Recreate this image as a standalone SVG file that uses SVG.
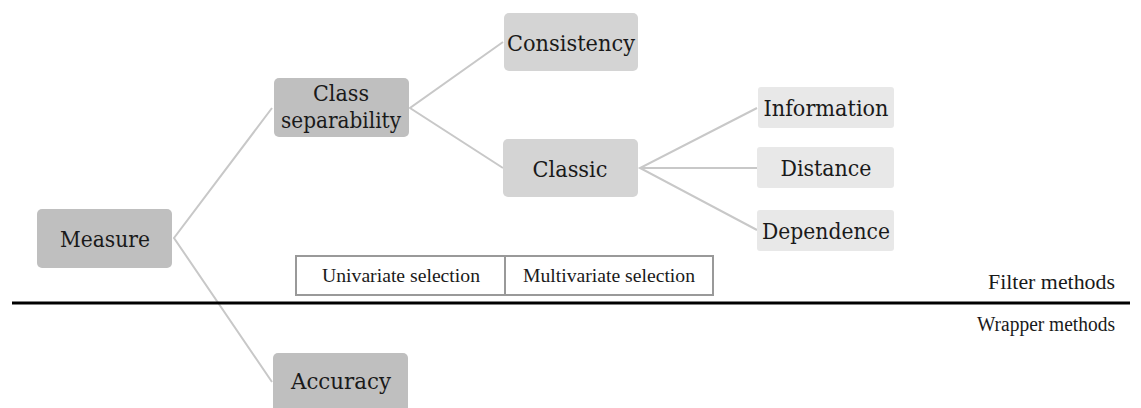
<svg xmlns="http://www.w3.org/2000/svg" width="1141" height="408" viewBox="0 0 1141 408">
<style>
.t{fill:#1a1a1a;text-anchor:middle}
.n{font-family:'DejaVu Serif',serif;font-size:23px}
.s{font-size:18px;font-family:'Liberation Serif',serif}
.m{font-size:20px;text-anchor:start;font-family:'Liberation Serif',serif}
.l1{fill:#bfbfbf}
.l2{fill:#d4d4d4}
.l3{fill:#e8e8e8}
.c{stroke:#c8c8c8;stroke-width:2;fill:none}
</style>
<rect width="1141" height="408" fill="#ffffff"/>
<g id="connectors">
<polyline class="c" points="272,108 174,238 272,382"/>
<polyline class="c" points="503,42 410,108 503,168"/>
<polyline class="c" points="757,108 640,168 757,230"/>
<line class="c" x1="640" y1="168" x2="757" y2="168"/>
</g>
<g id="measure"><rect class="l1" x="37" y="209" width="135" height="59" rx="5"/><text class="t n" x="105" y="247" textLength="90" lengthAdjust="spacingAndGlyphs">Measure</text></g>
<g id="class-separability"><rect class="l1" x="274" y="78" width="135" height="59" rx="5"/><text class="t n" x="341" y="101" textLength="56" lengthAdjust="spacingAndGlyphs">Class</text><text class="t n" x="341" y="128" textLength="120" lengthAdjust="spacingAndGlyphs">separability</text></g>
<g id="accuracy"><rect class="l1" x="273" y="353" width="135" height="60" rx="5"/><text class="t n" x="341" y="389" textLength="100" lengthAdjust="spacingAndGlyphs">Accuracy</text></g>
<g id="consistency"><rect class="l2" x="504" y="13" width="134" height="58" rx="5"/><text class="t n" x="571" y="51" textLength="128" lengthAdjust="spacingAndGlyphs">Consistency</text></g>
<g id="classic"><rect class="l2" x="503" y="139" width="135" height="58" rx="5"/><text class="t n" x="570" y="177" textLength="75" lengthAdjust="spacingAndGlyphs">Classic</text></g>
<g id="information"><rect class="l3" x="758" y="87" width="136" height="41" rx="3"/><text class="t n" x="826" y="116" textLength="125" lengthAdjust="spacingAndGlyphs">Information</text></g>
<g id="distance"><rect class="l3" x="757" y="147" width="137" height="41" rx="3"/><text class="t n" x="826" y="176" textLength="91" lengthAdjust="spacingAndGlyphs">Distance</text></g>
<g id="dependence"><rect class="l3" x="757" y="210" width="137" height="41" rx="3"/><text class="t n" x="826" y="239" textLength="128" lengthAdjust="spacingAndGlyphs">Dependence</text></g>
<g id="selection-table">
<rect x="296" y="256" width="417" height="39" fill="#ffffff" stroke="#999999" stroke-width="2"/>
<line x1="505" y1="256" x2="505" y2="295" stroke="#999999" stroke-width="2"/>
<text class="t s" x="401" y="282" textLength="158" lengthAdjust="spacingAndGlyphs">Univariate selection</text>
<text class="t s" x="609" y="282" textLength="172" lengthAdjust="spacingAndGlyphs">Multivariate selection</text>
</g>
<line x1="12" y1="303" x2="1130" y2="303" stroke="#000000" stroke-width="3"/>
<text class="t m" x="988" y="289" textLength="127" lengthAdjust="spacingAndGlyphs">Filter methods</text>
<text class="t m" x="977" y="331" textLength="138" lengthAdjust="spacingAndGlyphs">Wrapper methods</text>
</svg>
